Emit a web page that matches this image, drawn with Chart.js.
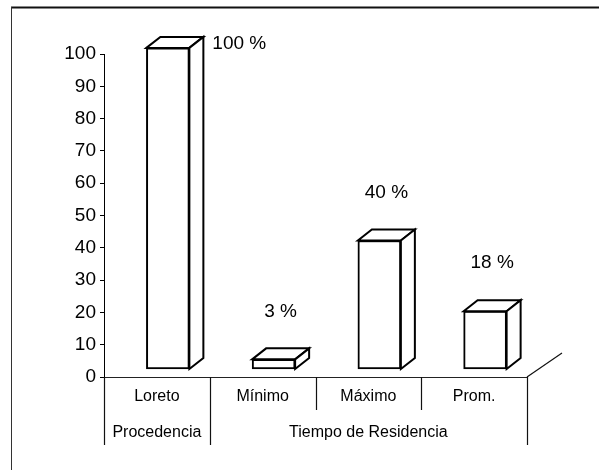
<!DOCTYPE html>
<html><head><meta charset="utf-8">
<script src="https://cdn.jsdelivr.net/npm/chart.js@4.4.0/dist/chart.umd.min.js"></script>
<style>html,body{margin:0;padding:0;background:#fff;}#wrap{width:599px;height:470px;position:relative;}</style>
</head><body><div id="wrap"><canvas id="c"></canvas></div>
<script>
const categories = ['Loreto', 'Mínimo', 'Máximo', 'Prom.'];
const values = [100, 3, 40, 18];
const valueLabels = ['100 %', '3 %', '40 %', '18 %'];
const groupNames = ['Procedencia', 'Tiempo de Residencia'];
const groupOfCategory = [0, 1, 1, 1];
const yTickValues = [0, 10, 20, 30, 40, 50, 60, 70, 80, 90, 100];

const FONT = "'Liberation Sans', Arial, Helvetica, sans-serif";
const DX = 14, DY = 11;       // bar depth
const FDX = 35, FDY = 24;     // floor depth

const deco = {
  id: 'deco',
  beforeDraw(chart) {
    const ctx = chart.ctx;
    ctx.save();
    ctx.strokeStyle = '#111';
    ctx.lineWidth = 2;
    ctx.beginPath(); ctx.moveTo(11, 7.5); ctx.lineTo(599, 7.5); ctx.stroke();
    ctx.lineWidth = 1; ctx.strokeStyle = '#333';
    ctx.beginPath(); ctx.moveTo(11.5, 7); ctx.lineTo(11.5, 470); ctx.stroke();
    ctx.restore();
  },
  afterDatasetsDraw(chart) {
    const ctx = chart.ctx;
    const meta = chart.getDatasetMeta(0);
    ctx.save();
    ctx.lineWidth = 2; ctx.strokeStyle = '#000'; ctx.fillStyle = '#fff'; ctx.lineJoin = 'miter';
    meta.data.forEach((bar, i) => {
      const p = bar.getProps(['x', 'y', 'base', 'width'], true);
      const l = p.x - p.width / 2, r = p.x + p.width / 2, y = p.y, b = p.base;
      ctx.fillStyle = '#fff';
      ctx.beginPath(); ctx.moveTo(l, y); ctx.lineTo(l + DX, y - DY); ctx.lineTo(r + DX, y - DY); ctx.lineTo(r, y); ctx.closePath(); ctx.fill(); ctx.stroke();
      ctx.beginPath(); ctx.moveTo(r, y); ctx.lineTo(r + DX, y - DY); ctx.lineTo(r + DX, b - DY); ctx.lineTo(r, b); ctx.closePath(); ctx.fill(); ctx.stroke();
      // value label
      ctx.fillStyle = '#000';
      ctx.font = '19px ' + FONT;
      ctx.textBaseline = 'middle';
      let ly = y - DY - 37;
      if (ly < 20) {
        ctx.textAlign = 'left';
        ctx.fillText(valueLabels[i], r + DX + 9, y - DY + 7);
      } else {
        ctx.textAlign = 'center';
        ctx.fillText(valueLabels[i], p.x + DX / 2, ly);
      }
    });
    ctx.restore();
  },
  afterDraw(chart) {
    const ctx = chart.ctx;
    const xs = chart.scales.x, ys = chart.scales.y;
    const y0 = ys.getPixelForValue(0);
    const n = categories.length;
    const bounds = [];
    for (let i = 0; i <= n; i++) {
      if (i === 0) bounds.push(xs.left);
      else if (i === n) bounds.push(xs.right);
      else bounds.push((xs.getPixelForTick(i - 1) + xs.getPixelForTick(i)) / 2);
    }
    ctx.save();
    ctx.strokeStyle = '#111'; ctx.lineWidth = 1.2;
    for (let i = 0; i <= n; i++) {
      const isGroupEdge = i === 0 || i === n || groupOfCategory[i] !== groupOfCategory[i - 1];
      const yEnd = isGroupEdge ? y0 + 68 : y0 + 33;
      ctx.beginPath(); ctx.moveTo(Math.round(bounds[i]) + 0.5, y0); ctx.lineTo(Math.round(bounds[i]) + 0.5, yEnd); ctx.stroke();
    }
    // floor edge
    ctx.beginPath(); ctx.moveTo(xs.right, y0); ctx.lineTo(xs.right + FDX, y0 - FDY); ctx.stroke();
    // group labels
    ctx.fillStyle = '#000'; ctx.font = '16px ' + FONT; ctx.textAlign = 'center'; ctx.textBaseline = 'middle';
    groupNames.forEach((g, gi) => {
      const idx = groupOfCategory.map((v, k) => v === gi ? k : -1).filter(k => k >= 0);
      const a = bounds[idx[0]], bb = bounds[idx[idx.length - 1] + 1];
      ctx.fillText(g, (a + bb) / 2, y0 + 56);
    });
    ctx.restore();
  }
};

new Chart(document.getElementById('c'), {
  type: 'bar',
  data: {
    labels: categories,
    datasets: [{
      data: values.map((v, i) => ({ x: i, y: v })),
      xAxisID: 'xb', yAxisID: 'yb',
      backgroundColor: '#fff', borderColor: '#000', borderWidth: 2,
      borderSkipped: false,
      barThickness: 43, clip: false
    }]
  },
  options: {
    responsive: true, maintainAspectRatio: false, animation: false,
    layout: { padding: { top: 54, right: 72, bottom: 13, left: 0 } },
    plugins: { legend: { display: false }, tooltip: { enabled: false } },
    scales: {
      x: {
        type: 'category', position: 'bottom', offset: true,
        grid: { display: false, drawTicks: false },
        border: { display: true, color: '#222', width: 1 },
        ticks: { color: '#000', font: { family: FONT, size: 16 }, padding: 10, maxRotation: 0, autoSkip: false },
        afterFit(s) { s.height = 80; }
      },
      y: {
        type: 'linear', min: 0, max: 100,
        grid: { drawOnChartArea: false, drawTicks: true, tickLength: 4, color: '#000' },
        border: { display: true, color: '#000', width: 1 },
        ticks: { color: '#000', font: { family: FONT, size: 19 }, padding: 4 },
        afterBuildTicks(s) { s.ticks = yTickValues.map(v => ({ value: v })); },
        afterFit(s) { s.width = 104; }
      },
      xb: { type: 'linear', display: false, min: -0.604, max: 3.396, offset: false },
      yb: { type: 'linear', display: false, min: -2.5, max: 98.1 }
    }
  },
  plugins: [deco]
});
</script></body></html>
